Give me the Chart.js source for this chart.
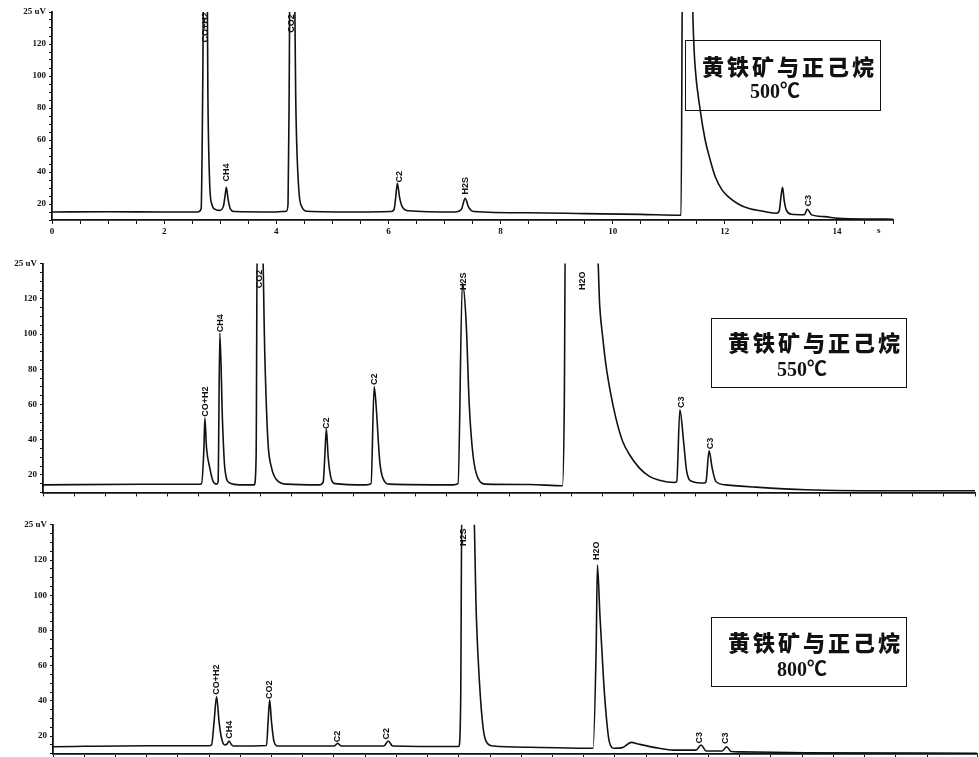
<!DOCTYPE html>
<html lang="zh">
<head>
  <meta charset="UTF-8" />
  <title>黄铁矿与正己烷 色谱图</title>
  <style>
    html, body {
      margin: 0;
      padding: 0;
      background: #fff;
      width: 979px;
      height: 757px;
      overflow: hidden;
    }

    .panel {
      position: absolute;
      left: 0;
    }

    .note {
      position: absolute;
      border: 1.5px solid #111;
      box-sizing: border-box;
      color: #111;
    }

    .note .l1 {
      position: absolute;
      font-family: "Noto Sans CJK SC", sans-serif;
      font-weight: 900;
      font-size: 22px;
      letter-spacing: 3px;
      line-height: 1;
      white-space: nowrap;
    }

    .note .l2 {
      position: absolute;
      font-family: "Liberation Serif", "Noto Sans CJK SC", serif;
      font-weight: bold;
      font-size: 20px;
      line-height: 1;
      white-space: nowrap;
    }

    .unit {
      position: absolute;
      font-family: "Liberation Serif", serif;
      font-weight: bold;
      font-size: 9px;
      color: #111;
    }
  </style>
</head>
<body>
  <canvas id="c1" class="panel" width="979" height="250" style="top:0px"></canvas>
  <canvas id="c2" class="panel" width="979" height="270" style="top:250px"></canvas>
  <canvas id="c3" class="panel" width="979" height="280" style="top:510px"></canvas>

  <div class="note" style="left:685px; top:40px; width:196px; height:71px;">
    <span class="l1" style="left:16px; top:13px;">黄铁矿与正己烷</span>
    <span class="l2" style="left:64px; top:40px;">500℃</span>
  </div>
  <div class="note" style="left:711px; top:318px; width:196px; height:70px;">
    <span class="l1" style="left:16px; top:11px;">黄铁矿与正己烷</span>
    <span class="l2" style="left:65px; top:40px;">550℃</span>
  </div>
  <div class="note" style="left:711px; top:617px; width:196px; height:70px;">
    <span class="l1" style="left:16px; top:12px;">黄铁矿与正己烷</span>
    <span class="l2" style="left:65px; top:41px;">800℃</span>
  </div>
  <span class="unit" style="left:877px; top:225px;">s</span>

  <script src="https://cdn.jsdelivr.net/npm/chart.js@4"></script>
  <script>
    // ---- 500°C run ----
    const p1Time = [0, 1.0, 2.0, 2.6, 2.66, 2.69, 2.71, 2.76, 2.78, 2.81, 2.85, 2.92, 2.99, 3.06, 3.09, 3.11, 3.14, 3.18, 3.25,
      4.0, 4.18, 4.21, 4.23, 4.25, 4.31, 4.35, 4.4, 4.46, 4.55, 5.5, 6.05, 6.1, 6.13, 6.16, 6.2, 6.25, 6.35,
      7.2, 7.3, 7.37, 7.43, 7.52, 8.5, 9.5, 10.5, 11.22, 11.25, 11.38, 11.44, 11.47, 11.56, 11.65, 11.74, 11.83,
      11.95, 12.06, 12.24, 12.42, 12.72, 12.92, 12.97, 13.0, 13.03, 13.06, 13.1, 13.19, 13.42, 13.47, 13.55,
      13.78, 14.02, 14.6, 15];
    const p1Signal = [15, 15.2, 15, 15, 17, 100, 200, 200, 90, 35, 20, 16.5, 16, 19, 26, 30.5, 23, 17, 15.3,
      15, 15.5, 20, 90, 200, 200, 80, 30, 18, 15.5, 15, 15.3, 16.5, 24, 33, 24, 18, 15.8,
      15, 16.5, 23.5, 18, 15.3, 14.5, 14, 13.5, 13, 200, 200, 127, 106, 79, 60, 47.5, 37,
      28.8, 24.6, 20, 17.3, 15.2, 14.2, 15.5, 24, 30.4, 22, 16, 13.6, 13.3, 16.7, 13.2,
      12.1, 11, 10.6, 10.5];
    const p1PeakNames = ["CO+H2", "CH4", "CO2", "C2", "H2S", "C3"];
    const p1PeakTimes = [2.73, 3.12, 4.28, 6.19, 7.38, 13.5];
    const p1PeakLevels = [121, 34, 127, 33.5, 26, 18.5];

    // ---- 550°C run ----
    const p2Time = [0, 1.6, 2.5, 2.551, 2.59, 2.605, 2.632, 2.685, 2.738, 2.793, 2.818, 2.846, 2.889, 2.926, 3.006, 3.167,
      3.4, 3.43, 3.45, 3.52, 3.57, 3.62, 3.68, 3.76, 3.92, 4.45, 4.51, 4.535, 4.56, 4.59, 4.63, 4.7,
      5.2, 5.28, 5.33, 5.36, 5.42, 5.47, 5.58, 6.6, 6.68, 6.75, 6.81, 6.86, 6.92, 7.0, 7.13, 7.83, 8.36,
      8.39, 8.41, 8.92, 8.96, 9.01, 9.06, 9.14, 9.22, 9.33, 9.44, 9.6, 9.76, 9.92, 10.16,
      10.2, 10.25, 10.31, 10.36, 10.45, 10.64, 10.67, 10.72, 10.77, 10.83, 10.99, 11.47, 12.28, 13.88, 15];
    const p2Signal = [14.3, 14.6, 14.6, 15, 35, 52.2, 35.2, 23.8, 16.2, 14.7, 16, 100.5, 50.3, 23.8, 15.3, 14.3,
      14.3, 30, 170, 170, 88, 39, 23.8, 17.2, 14.7, 14.3, 16, 30, 46, 30, 19, 15,
      14.3, 15, 70.2, 59.8, 27.6, 18.1, 14.7, 14.3, 15, 129, 107, 60, 31.4, 18.1, 14.7, 14.5, 13.8,
      60, 170, 150, 116, 97.7, 82.5, 65.5, 52.2, 38.9, 31.4, 23.8, 19.1, 16.9, 15.6,
      16.2, 57, 38.9, 21.9, 16.2, 15.3, 16, 33.6, 23.8, 16.2, 14.3, 13, 11.5, 10.9, 10.9];
    const p2PeakNames = ["CO+H2", "CH4", "CO2", "C2", "C2", "H2S", "H2O", "C3", "C3"];
    const p2PeakTimes = [2.61, 2.85, 3.48, 4.57, 5.34, 6.76, 8.69, 10.27, 10.74];
    const p2PeakLevels = [53, 101, 126, 46, 71, 125, 125, 58, 34.5];

    // ---- 800°C run ----
    const p3Time = [0, 1.5, 2.5, 2.54, 2.58, 2.62, 2.66, 2.7, 2.75, 2.79, 2.82, 2.86, 2.89,
      3.42, 3.445, 3.47, 3.5, 3.54, 3.6, 4.5, 4.56, 4.62, 5.3, 5.37, 5.44,
      6.5, 6.53, 6.55, 6.73, 6.78, 6.83, 6.89, 6.94, 7.05, 7.63,
      8.65, 8.7, 8.72, 8.76, 8.82, 8.87, 8.91, 8.99, 9.12, 9.26, 9.39, 9.71, 9.93,
      10.3, 10.38, 10.46, 10.72, 10.79, 10.86, 10.99, 12.06, 14.8];
    const p3Signal = [13.9, 14.5, 14.5, 14.9, 28, 42.4, 28, 18.7, 14.9, 15.5, 17.2, 15, 14.3,
      14.6, 28, 40.5, 28, 16.8, 14.3, 14.3, 15.8, 14.3, 14.3, 17.2, 14.3,
      14, 40, 160, 160, 88.8, 50.9, 24.4, 16.8, 14.3, 13.6,
      13, 69.8, 117.2, 88.8, 50.9, 28.1, 16.8, 13, 13.4, 16.4, 15.3, 13, 12,
      12, 14.9, 11.5, 11.5, 13.9, 11.2, 11, 10.5, 10.2];
    const p3PeakNames = ["CO+H2", "CH4", "CO2", "C2", "C2", "H2S", "H2O", "C3", "C3"];
    const p3PeakTimes = [2.62, 2.83, 3.47, 4.55, 5.35, 6.58, 8.71, 10.36, 10.77];
    const p3PeakLevels = [43.5, 18.5, 41, 16.5, 18, 128, 120, 15.8, 15.5];

    const INK = "#111";

    // vertical peak names, placed from the scales
    const peakNamesPlugin = {
      id: "peakNames",
      afterDatasetsDraw(chart, args, opts) {
        const ctx = chart.ctx;
        const xs = chart.scales.x, ys = chart.scales.y;
        ctx.save();
        ctx.fillStyle = INK;
        ctx.font = "bold 9px 'Liberation Sans', sans-serif";
        ctx.textAlign = "left";
        ctx.textBaseline = "middle";
        opts.names.forEach((name, i) => {
          const px = xs.getPixelForValue(opts.times[i]);
          const py = ys.getPixelForValue(opts.levels[i]);
          ctx.save();
          ctx.translate(px, py);
          ctx.rotate(-Math.PI / 2);
          ctx.fillText(name, 0, 0);
          ctx.restore();
        });
        ctx.restore();
      }
    };

    function makeChart(id, time, signal, names, times, levels, cfg) {
      const ctx = document.getElementById(id).getContext("2d");
      return new Chart(ctx, {
        type: "line",
        data: {
          datasets: [{
            data: time.map((t, i) => ({ x: t, y: signal[i] })),
            borderColor: INK,
            borderWidth: 1.6,
            pointRadius: 0,
            cubicInterpolationMode: "monotone",
            fill: false
          }]
        },
        options: {
          responsive: false,
          animation: false,
          layout: { padding: { top: cfg.top, right: cfg.right, left: 0, bottom: 0 } },
          plugins: {
            legend: { display: false },
            tooltip: { enabled: false },
            peakNames: { names: names, times: times, levels: levels }
          },
          scales: {
            x: {
              type: "linear",
              min: 0,
              max: cfg.xMax,
              afterFit: (s) => { s.height = cfg.xHeight; },
              border: { display: true, color: INK, width: 1.8 },
              grid: { drawOnChartArea: false, tickLength: 4, color: INK },
              ticks: {
                stepSize: 0.5,
                autoSkip: false,
                maxRotation: 0,
                padding: 2,
                color: INK,
                font: { family: "Liberation Serif", weight: "bold", size: 9 },
                callback: (v) => (cfg.xLabels && v % 2 === 0 && v <= 14) ? String(v) : ""
              }
            },
            y: {
              min: 10,
              max: 140,
              afterFit: (s) => { s.width = cfg.left; },
              border: { display: true, color: INK, width: 1.8 },
              grid: { drawOnChartArea: false, tickLength: 3, color: INK },
              ticks: {
                stepSize: 5,
                autoSkip: false,
                padding: 3,
                color: INK,
                font: { family: "Liberation Serif", weight: "bold", size: 9 },
                callback: (v) => v === 140 ? "25 uV" : (v % 20 === 0 ? String(v) : "")
              }
            }
          }
        },
        plugins: [peakNamesPlugin]
      });
    }

    makeChart("c1", p1Time, p1Signal, p1PeakNames, p1PeakTimes, p1PeakLevels,
      { top: 12, right: 86, left: 52, xHeight: 30, xMax: 15, xLabels: true });
    makeChart("c2", p2Time, p2Signal, p2PeakNames, p2PeakTimes, p2PeakLevels,
      { top: 13.6, right: 4, left: 43, xHeight: 27.6, xMax: 15, xLabels: false });
    makeChart("c3", p3Time, p3Signal, p3PeakNames, p3PeakTimes, p3PeakLevels,
      { top: 14.8, right: 0, left: 53, xHeight: 36.4, xMax: 14.8, xLabels: false });
  </script>
</body>
</html>
